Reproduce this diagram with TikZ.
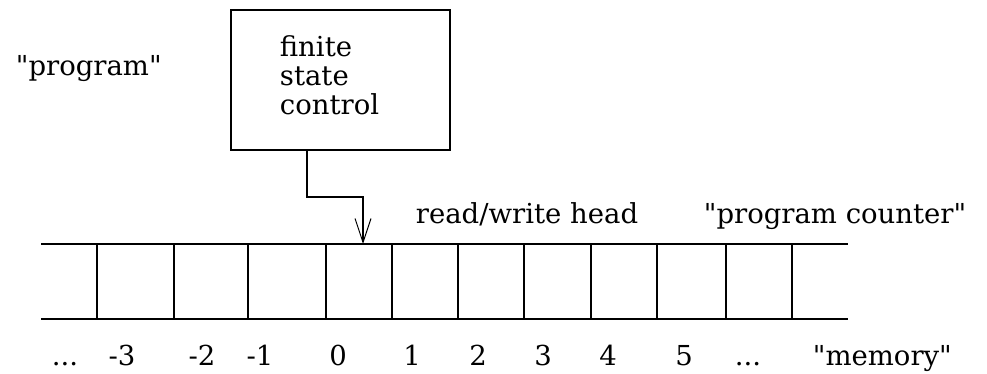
\documentclass[tikz,border=0pt]{standalone}
\usepackage{fontspec}
\setmainfont{DejaVu Serif}[Ligatures=TeXOff]
\usetikzlibrary{arrows.meta,positioning}

\begin{document}
\begin{tikzpicture}[
  x=1pt, y=-1pt,
  font=\fontsize{27.5}{29}\selectfont,
  line width=1.8pt,
  ctrlbox/.style={draw, minimum width=219pt, minimum height=140pt, inner sep=0pt},
  tapeline/.style={line width=1.8pt},
  cellnum/.style={anchor=base, inner sep=0pt},
  txt/.style={anchor=base west, inner sep=0pt},
  headarrow/.style={-{Straight Barb[length=24pt, width=16pt, line width=1pt]}}
]
\useasboundingbox (0,0) rectangle (987,373);

% finite state control
\node[ctrlbox] (ctrl) at (340.5,80) {};
\node[anchor=west, align=left, inner sep=0pt] (ctrltext) at (279,75)
  {finite\\state\\control};
\node[txt] (prog) at (15,75) {"program"};

% tape
\coordinate (tapeTL) at (41,244);
\coordinate (tapeTR) at (848,244);
\coordinate (tapeBL) at (41,319);
\coordinate (tapeBR) at (848,319);
\draw[tapeline] (tapeTL) -- (tapeTR);
\draw[tapeline] (tapeBL) -- (tapeBR);
\foreach \cx in {97,174,248,326,392,458,524,591,657,726,792}
  \draw[tapeline] (\cx,244) -- (\cx,319);

% cell numbers
\foreach \cx/\lab in {65/{...},122/-3,202/-2,260/-1,338/0,412/1,478/2,
                      543/3,608/4,684/5,748/{...}}
  \node[cellnum] at (\cx,365) {\lab};
\node[txt] (mem) at (812,365) {"memory"};

% read/write head
\coordinate (wire) at (307,150);
\coordinate (headtip) at (363,244);
\draw[headarrow] (ctrl.south -| wire) -- ++(0,46) -| (headtip);
\node[txt] (rwhead) at (415,223) {read/write head};
\node[txt] (pc) at (703,223) {"program counter"};
\end{tikzpicture}
\end{document}
